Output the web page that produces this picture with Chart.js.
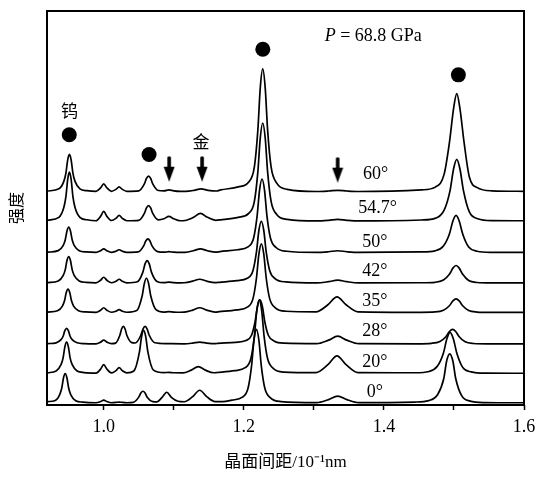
<!DOCTYPE html>
<html>
<head>
<meta charset="utf-8">
<script src="https://cdn.jsdelivr.net/npm/chart.js@4"></script>
<style>
  body { margin: 0; background: #fff; }
  #wrap { width: 550px; height: 478px; }
</style>
</head>
<body>
<div id="wrap"><canvas id="xrd" width="550" height="478"></canvas></div>
<script>
// tilt angles, bottom to top, and the vertical shift of each pattern
const angles = ['0°', '20°', '28°', '35°', '42°', '50°', '54.7°', '60°']
const offsets = [2, 32, 62, 94, 124, 155, 187, 217]

// [d-spacing (10^-1 nm), intensity above the pattern's own baseline]
const trace0 = [
  [0.920, 1.5], [0.930, 2.4], [0.937, 8.4], [0.940, 15], [0.9425, 25.5], [0.945, 30], [0.9475, 25.5], [0.950, 15], [0.953, 8.4], [0.960, 2.4], [0.970, 0.9],
  [0.989, 0.3], [0.9955, 1.5], [1.000, 3], [1.0045, 1.5], [1.011, 0.3], [1.0175, 0.6], [1.022, 1], [1.0265, 0.6], [1.033, 0.3],
  [1.042, 0.7], [1.050, 6], [1.053, 10.2], [1.056, 12], [1.059, 10.2], [1.062, 6], [1.070, 1.5],
  [1.076, 1.2], [1.083, 5.5], [1.090, 11], [1.097, 5.5], [1.106, 1.8],
  [1.115, 1.3], [1.127, 6.5], [1.137, 13], [1.147, 6.5], [1.159, 1.5],
  [1.170, 1.5], [1.183, 3], [1.198, 6], [1.206, 15], [1.211, 37.5], [1.2145, 64], [1.218, 75], [1.2215, 64], [1.225, 37.5], [1.230, 15], [1.238, 5.3], [1.253, 1.5],
  [1.304, 0.4], [1.321, 3.5], [1.334, 7], [1.347, 3.5], [1.364, 0.4],
  [1.444, 1], [1.464, 2.5], [1.477, 9], [1.4855, 25], [1.4895, 42.5], [1.494, 50], [1.4985, 42.5], [1.5025, 25], [1.511, 7.5], [1.523, 2], [1.543, 0.5], [1.600, 0.3]
]
const trace20 = [
  [0.920, 0.8], [0.932, 2.6], [0.939, 9], [0.942, 16], [0.9445, 27.2], [0.947, 32], [0.9495, 27.2], [0.952, 16], [0.955, 9], [0.962, 2.6], [0.972, 1],
  [0.989, 0.5], [0.9955, 4.5], [1.000, 9], [1.0045, 4.5], [1.011, 0.7], [1.0175, 3], [1.022, 6], [1.0265, 3], [1.033, 0.6],
  [1.043, 2.6], [1.051, 22], [1.054, 37.4], [1.057, 44], [1.060, 37.4], [1.063, 22], [1.071, 3.5],
  [1.086, 1], [1.093, 1.2], [1.100, 0.8],
  [1.113, 0.7], [1.125, 3.5], [1.135, 7], [1.145, 3.5], [1.157, 0.8],
  [1.162, 1.1], [1.187, 3], [1.202, 6], [1.210, 15], [1.215, 37.5], [1.2185, 64], [1.222, 75], [1.2255, 64], [1.229, 37.5], [1.234, 15], [1.242, 5.3], [1.257, 1.5],
  [1.303, 0.9], [1.320, 9], [1.333, 18], [1.346, 9], [1.363, 0.9],
  [1.4445, 0.8], [1.4645, 2.1], [1.4765, 7.6], [1.485, 21], [1.490, 35.7], [1.4945, 42], [1.499, 35.7], [1.504, 21], [1.5125, 6.3], [1.5245, 1.7], [1.5445, 0.4], [1.600, 0.3]
]
const trace28 = [
  [0.920, 0.5], [0.932, 1.3], [0.939, 4.5], [0.942, 8], [0.9445, 13.6], [0.947, 16], [0.9495, 13.6], [0.952, 8], [0.955, 4.5], [0.962, 1.3], [0.972, 0.5],
  [0.989, 0.3], [0.9955, 2], [1.000, 4], [1.0045, 2], [1.011, 0.5],
  [1.017, 1], [1.023, 9], [1.0255, 15.3], [1.028, 18], [1.0305, 15.3], [1.033, 9], [1.040, 1.5],
  [1.045, 1.1], [1.053, 9], [1.056, 15.3], [1.059, 18], [1.062, 15.3], [1.065, 9], [1.073, 1.4],
  [1.090, 0.5],
  [1.115, 0.3], [1.127, 1], [1.137, 2], [1.147, 1], [1.159, 0.4],
  [1.163, 0.7], [1.188, 1.8], [1.203, 3.6], [1.211, 9], [1.216, 22.5], [1.2195, 38.3], [1.223, 45], [1.2265, 38.3], [1.230, 22.5], [1.235, 9], [1.243, 3.2], [1.258, 0.9],
  [1.304, 0.4], [1.321, 4], [1.334, 8], [1.347, 4], [1.364, 0.4],
  [1.448, 0.3], [1.468, 0.8], [1.480, 2.7], [1.4885, 7.5], [1.4935, 12.8], [1.498, 15], [1.5025, 12.8], [1.5075, 7.5], [1.516, 2.3], [1.528, 0.6], [1.548, 0.2], [1.600, 0.3]
]
const trace35 = [
  [0.920, 0.5], [0.934, 1.9], [0.941, 6.7], [0.944, 12], [0.9465, 20.4], [0.949, 24], [0.9515, 20.4], [0.954, 12], [0.957, 6.7], [0.964, 1.9], [0.974, 0.7],
  [0.989, 0.3], [0.9955, 2.5], [1.000, 5], [1.0045, 2.5], [1.011, 0.4], [1.0175, 1.5], [1.022, 3], [1.0265, 1.5], [1.033, 0.4],
  [1.047, 2.1], [1.055, 17.5], [1.058, 29.8], [1.061, 35], [1.064, 29.8], [1.067, 17.5], [1.075, 2.8],
  [1.086, 0.6], [1.093, 1], [1.100, 0.6], [1.109, 0.4],
  [1.115, 0.5], [1.127, 2.5], [1.137, 5], [1.147, 2.5], [1.159, 0.6],
  [1.165, 1], [1.190, 2.8], [1.205, 5.6], [1.213, 14], [1.218, 35], [1.2215, 59.5], [1.225, 70], [1.2285, 59.5], [1.232, 35], [1.237, 14], [1.245, 4.9], [1.260, 1.4],
  [1.303, 0.8], [1.320, 8], [1.333, 16], [1.346, 8], [1.363, 0.8],
  [1.453, 0.3], [1.473, 0.7], [1.485, 2.5], [1.4935, 7], [1.4985, 11.9], [1.503, 14], [1.5075, 11.9], [1.5125, 7], [1.521, 2.1], [1.533, 0.6], [1.553, 0.2], [1.600, 0.3]
]
const trace42 = [
  [0.920, 0.5], [0.935, 2.2], [0.942, 7.6], [0.945, 13.5], [0.9475, 23], [0.950, 27], [0.9525, 23], [0.955, 13.5], [0.958, 7.6], [0.965, 2.2], [0.975, 0.8],
  [0.989, 0.3], [0.9955, 3], [1.000, 6], [1.0045, 3], [1.011, 0.4], [1.0175, 2], [1.022, 4], [1.0265, 2], [1.033, 0.3],
  [1.048, 1.4], [1.056, 11.5], [1.059, 19.6], [1.062, 23], [1.065, 19.6], [1.068, 11.5], [1.076, 1.8],
  [1.086, 0.5], [1.093, 1], [1.100, 0.5], [1.109, 0.3],
  [1.115, 0.4], [1.127, 2], [1.137, 4], [1.147, 2], [1.159, 0.5],
  [1.165, 0.9], [1.190, 2.5], [1.205, 5], [1.213, 12.6], [1.218, 31.5], [1.2215, 53.6], [1.225, 63], [1.2285, 53.6], [1.232, 31.5], [1.237, 12.6], [1.245, 4.4], [1.260, 1.3],
  [1.304, 0.3], [1.321, 1.5], [1.334, 3], [1.347, 1.5], [1.364, 0.3],
  [1.453, 0.4], [1.473, 0.9], [1.485, 3.2], [1.4935, 9], [1.4985, 15.3], [1.503, 18], [1.5075, 15.3], [1.5125, 9], [1.521, 2.7], [1.533, 0.7], [1.553, 0.2], [1.600, 0.3]
]
const trace50 = [
  [0.920, 0.5], [0.935, 2.1], [0.942, 7.3], [0.945, 13], [0.9475, 22], [0.950, 26], [0.9525, 22], [0.955, 13], [0.958, 7.3], [0.965, 2.1], [0.975, 0.8],
  [0.989, 0.3], [0.9955, 2], [1.000, 4], [1.0045, 2], [1.011, 0.3], [1.0175, 1.5], [1.022, 3], [1.0265, 1.5], [1.033, 0.3],
  [1.049, 0.8], [1.057, 7], [1.060, 11.9], [1.063, 14], [1.066, 11.9], [1.069, 7], [1.077, 1.1],
  [1.086, 0.5], [1.093, 1], [1.100, 0.5], [1.109, 0.3],
  [1.116, 0.4], [1.128, 2], [1.138, 4], [1.148, 2], [1.160, 0.5],
  [1.166, 1.1], [1.191, 3], [1.206, 6], [1.214, 15], [1.219, 37.5], [1.2225, 64], [1.226, 75], [1.2295, 64], [1.233, 37.5], [1.238, 15], [1.246, 5.3], [1.261, 1.5],
  [1.304, 0.3], [1.321, 1], [1.334, 2], [1.347, 1], [1.364, 0.3],
  [1.453, 0.8], [1.473, 1.9], [1.485, 6.8], [1.4935, 19], [1.4985, 32.3], [1.503, 38], [1.5075, 32.3], [1.5125, 19], [1.521, 5.7], [1.533, 1.5], [1.553, 0.4], [1.600, 0.3]
]
const trace547 = [
  [0.920, 1], [0.936, 4], [0.943, 14], [0.946, 25], [0.9485, 42.5], [0.951, 50], [0.9535, 42.5], [0.956, 25], [0.959, 14], [0.966, 4], [0.976, 1.5],
  [0.989, 0.5], [0.9955, 5], [1.000, 10], [1.0045, 5], [1.011, 0.8], [1.0175, 3], [1.022, 6], [1.0265, 3], [1.033, 0.5],
  [1.050, 1], [1.058, 8], [1.061, 13.6], [1.064, 16], [1.067, 13.6], [1.070, 8], [1.078, 1.5],
  [1.086, 2.5], [1.093, 5], [1.100, 2.5], [1.109, 0.5],
  [1.116, 0.8], [1.128, 4], [1.138, 8], [1.148, 4], [1.160, 1],
  [1.167, 1.5], [1.192, 4], [1.207, 8], [1.215, 20], [1.220, 50], [1.2235, 85], [1.227, 100], [1.2305, 85], [1.234, 50], [1.239, 20], [1.247, 7], [1.262, 2],
  [1.304, 0.3], [1.321, 1], [1.334, 2], [1.347, 1], [1.364, 0.3],
  [1.454, 1.3], [1.474, 3.2], [1.486, 11.3], [1.4945, 31.5], [1.4995, 53.5], [1.504, 63], [1.5085, 53.5], [1.5135, 31.5], [1.522, 9.5], [1.534, 2.5], [1.554, 0.6], [1.600, 0.5]
]
const trace60 = [
  [0.920, 0.8], [0.936, 3], [0.943, 10.6], [0.946, 19], [0.9485, 32.3], [0.951, 38], [0.9535, 32.3], [0.956, 19], [0.959, 10.6], [0.966, 3], [0.976, 1.1],
  [0.989, 0.5], [0.9955, 4], [1.000, 8], [1.0045, 4], [1.011, 0.5], [1.0175, 2.5], [1.022, 5], [1.0265, 2.5], [1.033, 0.5],
  [1.050, 1], [1.058, 8], [1.061, 13.6], [1.064, 16], [1.067, 13.6], [1.070, 8], [1.078, 1.3],
  [1.086, 1], [1.093, 2], [1.100, 1], [1.109, 0.5],
  [1.117, 0.5], [1.129, 1.5], [1.139, 3], [1.149, 1.5], [1.161, 0.8],
  [1.167, 1.9], [1.192, 5], [1.207, 10], [1.215, 25], [1.220, 62.5], [1.2235, 106], [1.227, 125], [1.2305, 106], [1.234, 62.5], [1.239, 25], [1.247, 8.8], [1.262, 2.5],
  [1.304, 0.3], [1.321, 0.8], [1.334, 1.5], [1.347, 0.8], [1.364, 0.3],
  [1.454, 2], [1.474, 5], [1.486, 18], [1.4935, 50], [1.4995, 85], [1.504, 100], [1.5085, 85], [1.5145, 50], [1.522, 15], [1.534, 4], [1.554, 1], [1.600, 0.5]
]
const traces = [trace0, trace20, trace28, trace35, trace42, trace50, trace547, trace60]

// phase markers: W peaks (dots) and gold peaks (arrows)
const dotX = [0.9508, 1.0647, 1.2271, 1.5063]
const dotY = [275, 255, 362, 336]
const arrowX = [1.0934, 1.1404, 1.334]
const arrowY = [240.5, 240.5, 239.5]

// x ticks
const tickValues = [1.0, 1.1, 1.2, 1.3, 1.4, 1.5, 1.6]

// text annotations, in data coordinates
const angleLabelX = [1.387, 1.387, 1.387, 1.387, 1.387, 1.387, 1.391, 1.388]
const angleLabelY = [13, 43, 75, 106, 136, 166, 200, 235]

const serif = "'Liberation Serif', 'Noto Sans CJK SC', serif"
const cjk = "'Noto Sans CJK SC', sans-serif"

function arrowImage () {
  const c = document.createElement('canvas')
  c.width = 12
  c.height = 26
  const g = c.getContext('2d')
  g.fillStyle = '#000'
  g.beginPath()
  g.moveTo(4.2, 1.5)
  g.quadraticCurveTo(6, -0.5, 7.8, 1.5)
  g.lineTo(7.8, 11)
  g.lineTo(11.5, 11)
  g.lineTo(6, 26)
  g.lineTo(0.5, 11)
  g.lineTo(4.2, 11)
  g.closePath()
  g.fill()
  return c
}

const overlay = {
  id: 'overlay',
  afterDatasetsDraw (chart) {
    const { ctx, chartArea: a, scales: { x, y } } = chart
    ctx.save()
    ctx.strokeStyle = '#000'
    ctx.lineWidth = 2
    ctx.strokeRect(a.left, a.top, a.right - a.left, a.bottom - a.top)

    ctx.fillStyle = '#000'
    ctx.textAlign = 'center'
    ctx.textBaseline = 'middle'
    ctx.font = '18px ' + serif
    angles.forEach((t, i) => {
      ctx.fillText(t, x.getPixelForValue(angleLabelX[i]), y.getPixelForValue(angleLabelY[i]))
    })

    ctx.font = '17px ' + cjk
    ctx.fillText('钨', x.getPixelForValue(0.9512), y.getPixelForValue(300))
    ctx.fillText('金', x.getPixelForValue(1.1388), y.getPixelForValue(268))

    // P = 68.8 GPa
    ctx.textAlign = 'left'
    let px = x.getPixelForValue(1.3154)
    const py = y.getPixelForValue(375)
    ctx.font = 'italic 18px ' + serif
    ctx.fillText('P', px, py)
    px += ctx.measureText('P').width
    ctx.font = '18px ' + serif
    ctx.fillText(' = 68.8 GPa', px, py)
    ctx.restore()
  }
}

const datasets = traces.map((t, i) => ({
  data: t.map(p => ({ x: p[0], y: p[1] + offsets[i] })),
  borderColor: '#000',
  borderWidth: 1.7,
  pointRadius: 0,
  fill: false,
  cubicInterpolationMode: 'monotone'
}))

datasets.push({
  type: 'scatter',
  data: dotX.map((v, i) => ({ x: v, y: dotY[i] })),
  pointRadius: 7.5,
  pointBackgroundColor: '#000',
  pointBorderWidth: 0
})
datasets.push({
  type: 'scatter',
  data: arrowX.map((v, i) => ({ x: v, y: arrowY[i] })),
  pointStyle: arrowImage(),
  pointRadius: 10
})

new Chart(document.getElementById('xrd'), {
  type: 'line',
  data: { datasets },
  options: {
    responsive: false,
    animation: false,
    layout: { padding: { top: 4, right: 26, bottom: 0, left: 0 } },
    plugins: { legend: { display: false }, tooltip: { enabled: false } },
    scales: {
      x: {
        type: 'linear',
        min: 0.919,
        max: 1.6,
        afterBuildTicks: s => { s.ticks = tickValues.map(v => ({ value: v })) },
        afterFit: s => { s.height = 73 },
        ticks: {
          autoSkip: false,
          maxRotation: 0,
          padding: 6,
          color: '#000',
          font: { family: serif, size: 18 },
          callback: v => (Math.round(v * 10) % 2 === 0 ? v.toFixed(1) : '')
        },
        grid: { drawOnChartArea: false, drawTicks: true, tickLength: 5, tickColor: '#000', tickWidth: 1.5 },
        border: { display: false },
        title: {
          display: true,
          text: '晶面间距/10⁻¹nm',
          color: '#000',
          font: { family: serif, size: 17 },
          padding: { top: 0, bottom: 5 }
        }
      },
      y: {
        min: 0,
        max: 401,
        afterFit: s => { s.width = 47 },
        ticks: { display: false },
        grid: { display: false },
        border: { display: false },
        title: {
          display: true,
          text: '强度',
          color: '#000',
          font: { family: cjk, size: 16 },
          padding: { top: 6, bottom: 0 }
        }
      }
    }
  },
  plugins: [overlay]
})
</script>
</body>
</html>
